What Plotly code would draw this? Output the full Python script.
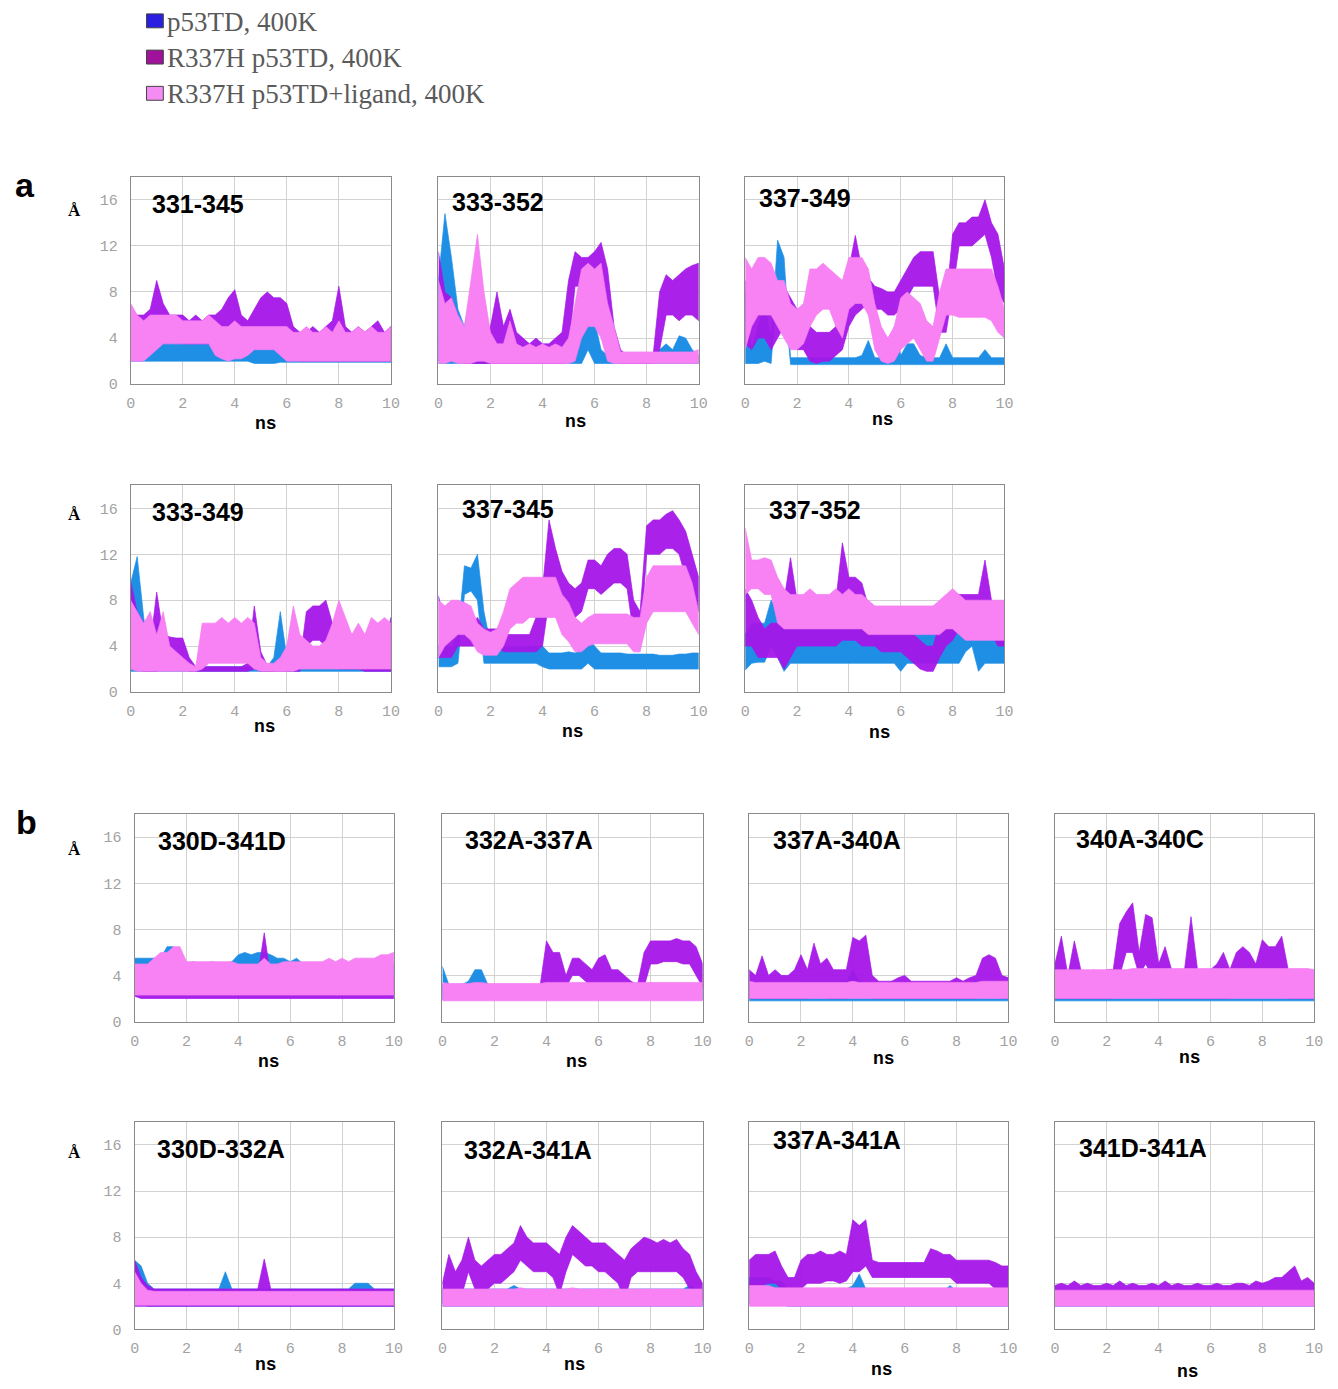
import plotly.graph_objects as go

W, H = 1338, 1389

# time grid (ns), 0.25 ns spacing
T = [0, 0.25, 0.5, 0.75, 1, 1.25, 1.5, 1.75, 2, 2.25, 2.5, 2.75, 3, 3.25, 3.5, 3.75,
     4, 4.25, 4.5, 4.75, 5, 5.25, 5.5, 5.75, 6, 6.25, 6.5, 6.75, 7, 7.25, 7.5, 7.75,
     8, 8.25, 8.5, 8.75, 9, 9.25, 9.5, 9.75, 10]

SERIES_NAMES = ["p53TD, 400K", "R337H p53TD, 400K", "R337H p53TD+ligand, 400K"]

# Each trajectory is stored as its lower / upper envelope (Å) along T.
# WT = p53TD, MUT = R337H p53TD, LIG = R337H p53TD + ligand

# ---------------- a: intra-chain distances ----------------
D331_345_WT_LO = [2.0,2.0,2.0,2.0,2.0,2.0,2.0,2.0,2.0,2.0,2.0,2.0,2.0,2.0,2.0,2.0,2.0,2.0,2.0,1.8,1.8,1.8,1.8,1.9,1.9,1.9,1.9,1.9,1.9,1.9,1.9,1.9,1.9,1.9,1.9,1.9,1.9,1.9,1.9,1.9,1.9]
D331_345_WT_HI = [5.0,5.0,4.5,4.0,4.0,4.2,4.2,4.2,4.2,4.0,4.2,4.0,4.2,3.5,3.5,3.5,3.5,3.5,3.5,3.2,3.2,3.2,3.2,3.5,3.5,3.5,3.5,3.5,3.5,3.5,3.5,3.5,3.5,3.5,3.5,3.5,3.5,3.5,3.5,3.5,3.5]
D331_345_MUT_LO = [3.0,3.5,3.5,4.0,4.0,4.0,4.0,4.0,3.5,3.5,3.5,3.5,3.5,3.0,3.5,4.0,3.5,3.0,3.0,3.5,4.0,5.0,4.5,4.0,3.0,2.5,2.0,2.0,2.0,2.0,2.0,2.0,2.0,2.0,2.0,2.0,2.0,2.0,2.0,2.0,2.0]
D331_345_MUT_HI = [6.5,6.0,6.0,6.5,9.0,7.0,6.0,6.0,6.0,5.5,6.0,5.5,6.0,6.0,6.5,7.5,8.2,6.0,5.5,6.5,7.5,8.0,7.5,7.5,7.0,5.0,4.5,4.5,5.0,4.5,5.0,5.5,8.5,5.0,4.5,5.0,4.5,5.0,5.5,4.5,5.0]
D331_345_LIG_LO = [2.0,2.0,2.0,2.5,3.0,3.5,3.5,3.5,3.5,3.5,3.5,3.5,3.5,2.5,2.2,2.0,2.2,2.2,2.5,3.0,3.0,3.0,3.0,2.5,2.0,2.0,2.0,2.0,2.0,2.0,2.0,2.0,2.0,2.0,2.0,2.0,2.0,2.0,2.0,2.0,2.0]
D331_345_LIG_HI = [7.0,6.0,5.5,6.0,6.0,6.0,6.0,6.0,5.5,5.5,5.5,5.5,6.0,5.5,5.0,5.0,5.5,5.0,5.0,5.0,5.0,5.0,5.0,5.0,5.0,4.5,4.5,5.0,4.5,4.5,5.0,4.5,5.5,4.5,4.5,5.0,4.5,5.0,4.5,4.5,5.0]

D333_352_WT_LO = [1.8,1.8,1.8,1.8,1.8,1.8,1.8,1.8,1.8,1.8,1.8,1.8,1.8,1.8,1.8,1.8,1.8,1.8,1.8,1.8,1.8,1.8,1.8,3.0,1.8,1.8,1.8,1.8,1.8,1.8,1.8,1.8,1.8,1.8,1.8,1.8,1.8,1.8,1.8,1.8,1.8]
D333_352_WT_HI = [9.0,14.8,11.0,6.5,5.0,8.0,12.0,3.0,2.5,2.3,2.5,2.3,2.5,2.3,2.5,2.3,2.5,2.3,2.5,2.3,2.5,3.0,5.0,6.0,5.5,3.0,2.5,2.8,2.8,2.3,2.3,2.3,2.5,2.5,3.0,3.5,3.0,4.2,4.0,3.0,2.5]
D333_352_MUT_LO = [2.0,3.0,3.0,2.0,1.8,1.8,1.8,1.8,1.8,1.8,1.8,1.8,1.8,1.8,1.8,1.8,1.8,1.8,1.8,1.8,3.0,8.5,8.5,8.0,8.0,8.0,5.0,2.0,1.8,1.8,1.8,1.8,1.8,1.8,3.0,6.0,6.0,5.5,6.0,6.0,5.5]
D333_352_MUT_HI = [11.5,8.0,7.5,6.0,4.0,6.0,8.0,4.0,5.0,8.0,5.0,6.5,4.5,4.0,3.5,4.0,3.5,3.5,4.0,4.5,9.0,11.5,11.0,11.0,11.5,12.3,10.0,5.0,3.0,2.5,2.5,2.5,2.5,2.5,8.0,9.5,9.0,9.5,10.0,10.3,10.5]
D333_352_LIG_LO = [1.8,1.8,2.0,1.8,1.8,1.8,2.0,2.0,1.8,1.8,1.8,1.8,1.8,1.8,1.8,1.8,1.8,1.8,1.8,1.8,1.8,2.0,4.0,5.0,5.0,4.0,2.0,1.8,1.8,1.8,1.8,1.8,1.8,1.8,1.8,1.8,1.8,1.8,1.8,1.8,1.8]
D333_352_LIG_HI = [9.0,7.0,7.5,6.0,5.0,9.0,13.0,8.0,4.5,3.5,3.5,5.5,3.5,3.2,3.5,3.2,3.5,3.2,3.5,3.2,4.0,7.0,10.0,10.5,10.0,10.5,7.0,5.0,2.8,2.8,2.8,2.8,2.8,2.8,2.8,2.8,2.8,2.8,2.8,2.8,3.0]

D337_349_WT_LO = [1.8,1.8,1.8,2.0,1.8,8.8,8.0,1.7,1.7,1.7,1.7,1.7,1.7,1.7,1.7,1.7,1.7,1.7,1.7,1.7,1.7,1.7,1.7,1.7,1.7,1.7,1.7,1.7,1.7,1.7,1.7,1.7,1.7,1.7,1.7,1.7,1.7,1.7,1.7,1.7,1.7]
D337_349_WT_HI = [8.0,3.0,5.0,7.0,4.0,12.5,11.0,2.3,2.3,2.3,2.3,2.3,2.3,2.3,2.3,2.3,2.3,2.3,2.5,3.8,2.3,2.3,2.5,5.0,2.5,3.5,3.5,2.5,2.3,2.3,2.3,3.5,2.3,2.3,2.3,2.3,2.3,3.0,2.3,2.3,2.3]
D337_349_MUT_LO = [3.5,3.0,4.0,4.0,3.0,4.0,5.0,4.0,3.0,3.0,2.0,1.8,2.0,2.0,2.5,3.0,5.0,6.0,6.5,7.0,6.5,6.5,6.0,6.0,6.5,7.5,8.5,8.5,8.5,8.5,4.5,4.5,8.0,12.0,12.0,12.0,12.5,13.0,11.0,8.0,7.0]
D337_349_MUT_HI = [9.0,8.0,7.0,7.5,7.0,6.5,8.5,7.5,6.5,5.5,5.0,4.5,4.5,4.5,5.0,7.0,10.0,12.9,10.0,9.2,8.5,8.3,8.0,8.0,9.0,10.0,11.0,11.5,11.5,11.5,7.5,7.0,13.0,14.0,14.0,14.5,14.5,16.0,14.0,13.0,10.0]
D337_349_LIG_LO = [3.0,5.0,6.0,6.0,6.0,5.0,4.0,3.0,3.0,3.5,5.0,6.0,6.5,6.5,5.0,4.0,6.5,7.0,7.0,6.0,3.0,2.0,1.8,2.0,3.0,3.5,4.0,3.0,2.0,2.0,4.0,6.0,6.0,5.8,5.8,5.8,5.8,5.8,5.5,4.5,4.0]
D337_349_LIG_HI = [11.0,10.0,11.0,11.0,10.5,9.0,9.0,7.0,6.5,7.0,10.0,10.0,10.5,10.0,9.5,9.0,11.0,11.0,11.0,10.0,7.0,5.0,4.0,5.0,7.5,8.0,7.5,7.0,5.5,5.0,8.0,10.0,10.0,10.0,10.0,10.0,10.0,10.0,10.0,8.5,6.5]

D333_349_WT_LO = [1.8,1.8,1.8,1.8,1.8,1.8,1.8,1.8,1.8,1.8,1.8,1.8,1.8,1.8,1.8,1.8,1.8,1.8,1.8,1.8,1.8,1.8,1.8,2.5,1.8,1.8,1.8,1.8,1.8,1.8,1.8,1.8,1.8,1.8,1.8,1.8,1.8,1.8,1.8,1.8,1.8]
D333_349_WT_HI = [9.5,11.8,6.5,3.0,6.0,6.0,2.5,2.2,2.2,2.2,2.2,2.2,2.2,2.2,2.2,2.2,2.2,2.2,2.2,2.2,2.2,2.2,3.0,7.0,3.0,2.2,2.2,2.2,2.2,2.2,2.2,2.2,3.0,2.2,2.2,2.2,2.2,2.2,2.2,2.2,2.2]
D333_349_MUT_LO = [2.0,2.0,1.8,1.8,1.8,2.0,2.5,2.5,2.7,1.8,1.8,1.8,1.8,1.8,1.8,1.8,1.8,1.8,1.8,2.0,1.8,1.8,1.8,1.8,1.8,1.8,1.8,4.0,4.5,4.5,4.0,3.0,2.0,2.0,2.0,2.0,1.8,1.8,1.8,1.8,1.8]
D333_349_MUT_HI = [9.6,7.0,6.0,4.0,8.7,5.0,4.8,4.7,4.7,3.0,2.2,2.2,2.2,2.2,2.2,2.2,2.2,2.2,2.5,7.5,3.5,2.3,2.3,2.3,2.3,2.3,2.5,7.0,7.5,7.5,8.0,6.0,5.0,3.0,5.0,5.0,3.0,4.0,3.0,4.0,6.5]
D333_349_LIG_LO = [2.0,1.8,1.8,1.8,1.8,1.8,1.8,1.8,1.8,1.8,1.8,2.0,2.5,2.5,2.5,2.5,2.5,2.5,2.5,2.0,1.8,1.8,1.8,1.8,1.8,1.8,2.0,2.0,2.0,2.0,2.0,2.0,2.0,2.0,2.0,2.0,2.0,2.0,2.0,2.0,2.0]
D333_349_LIG_HI = [8.0,7.0,6.0,7.0,5.0,7.0,4.0,3.5,3.0,2.5,2.2,6.0,6.0,6.0,6.5,6.0,6.5,6.0,6.5,6.0,3.0,2.5,2.5,3.0,4.0,7.5,5.0,4.5,4.0,4.0,4.5,6.0,8.0,6.5,5.0,6.0,5.0,6.5,6.0,6.5,6.0]

D337_345_WT_LO = [2.2,2.2,2.2,2.5,8.5,8.8,8.0,2.5,2.5,2.5,2.5,2.5,2.5,2.5,2.5,2.5,2.2,2.0,2.0,2.0,2.0,2.0,2.0,2.5,2.0,2.0,2.0,2.0,2.0,2.0,2.0,2.0,2.0,2.0,2.0,2.0,2.0,2.0,2.0,2.0,2.0]
D337_345_WT_HI = [4.0,4.0,3.9,5.0,11.0,10.8,12.0,7.0,4.2,4.0,4.0,3.9,4.0,3.9,4.0,4.0,4.0,3.4,3.4,3.4,3.5,3.4,3.6,4.6,4.0,3.4,3.4,3.4,3.4,3.3,3.3,3.3,3.3,3.3,3.2,3.2,3.2,3.3,3.3,3.4,3.4]
D337_345_MUT_LO = [3.0,3.0,3.0,4.0,4.0,4.0,4.0,4.0,4.0,4.0,3.5,3.5,3.5,3.5,3.5,3.5,4.0,8.0,8.0,7.0,6.5,6.5,7.0,9.0,9.0,8.5,9.0,9.5,9.5,9.0,5.0,4.0,12.0,12.0,12.0,12.5,12.5,12.0,10.0,8.0,7.0]
D337_345_MUT_HI = [8.4,6.0,6.0,6.0,6.0,6.0,6.5,5.5,5.5,5.5,5.0,5.0,5.0,5.0,5.0,6.5,9.0,15.0,12.5,10.5,9.5,9.0,9.5,11.5,11.5,11.0,12.0,12.5,12.5,12.0,8.0,7.0,14.5,15.0,15.0,15.5,15.8,15.0,14.0,12.0,10.0]
D337_345_LIG_LO = [3.0,4.0,4.5,5.0,5.0,4.5,3.5,3.2,3.2,3.2,4.0,5.5,6.0,6.0,6.5,6.5,6.5,6.5,6.5,5.0,4.4,3.5,3.5,4.0,4.2,4.2,4.2,4.2,4.2,4.2,3.5,3.5,6.0,7.0,7.0,7.0,7.0,7.0,7.0,6.0,5.0]
D337_345_LIG_HI = [8.0,7.5,8.0,8.0,7.8,7.5,6.0,5.5,5.2,5.5,7.0,9.0,9.5,10.0,10.0,10.0,10.0,10.0,10.0,8.5,7.8,6.5,6.0,6.5,6.8,6.8,6.8,6.8,6.8,6.8,6.5,6.5,10.0,11.0,11.0,11.0,11.0,11.0,11.0,9.5,7.0]

D337_352_WT_LO = [1.9,2.5,2.6,2.6,4.0,3.0,1.8,2.5,2.5,2.5,2.5,2.5,2.5,2.5,2.5,2.5,2.5,2.5,2.5,2.5,2.5,2.5,2.5,2.5,1.8,2.5,2.5,2.5,2.5,2.5,2.5,2.5,2.5,2.5,3.5,4.0,1.8,2.5,2.5,2.5,2.5]
D337_352_WT_HI = [5.0,6.0,6.0,6.0,8.0,7.0,6.0,6.0,6.0,6.0,6.0,6.0,5.8,6.0,6.0,6.5,6.0,6.0,6.0,5.8,6.0,6.0,6.0,6.0,5.5,5.5,5.5,5.5,5.5,5.5,5.5,5.5,5.5,6.0,7.5,7.5,6.0,6.0,5.5,5.5,5.5]
D337_352_MUT_LO = [4.0,4.0,3.0,3.0,3.0,3.0,2.0,3.0,4.0,4.0,4.0,4.0,4.0,4.0,4.0,4.5,4.5,4.5,4.0,4.0,4.0,3.5,3.5,3.5,3.5,3.0,2.5,2.0,1.8,1.8,3.0,4.0,4.5,5.5,6.0,6.0,6.0,6.0,5.0,4.0,4.0]
D337_352_MUT_HI = [9.0,8.0,6.5,5.5,6.0,6.0,8.0,11.7,8.0,7.5,7.5,8.0,7.5,7.5,8.0,13.0,10.0,10.0,9.5,7.5,7.0,7.0,7.0,7.0,6.5,6.0,5.0,4.5,4.0,4.0,6.0,8.0,8.5,8.5,8.5,8.5,8.5,11.5,8.0,7.0,6.5]
D337_352_LIG_LO = [8.5,9.0,9.0,8.5,8.5,6.0,5.5,5.5,5.5,5.5,5.5,5.5,5.5,5.5,5.5,5.5,5.5,5.5,5.5,5.0,5.0,5.0,5.0,5.0,5.0,5.0,5.0,5.0,5.0,5.0,5.0,5.5,5.5,5.0,4.5,4.5,4.5,4.5,4.5,4.5,4.5]
D337_352_LIG_HI = [14.3,11.5,11.5,11.7,11.5,10.0,9.0,8.5,8.5,8.5,9.0,8.5,8.5,8.5,9.0,8.5,9.0,8.5,8.5,8.0,7.5,7.5,7.5,7.5,7.5,7.5,7.5,7.5,7.5,7.5,8.0,8.5,9.0,8.5,8.0,8.0,8.0,8.0,8.0,8.0,8.0]

# ---------------- b: inter-chain distances ----------------
D330D_341D_WT_LO = [2.8,2.8,2.8,2.8,2.8,2.8,2.8,2.8,2.8,2.8,2.8,2.8,2.8,2.8,2.8,2.8,3.3,3.3,3.3,3.3,3.3,3.3,3.3,3.0,3.0,3.0,3.0,2.5,2.5,2.5,2.5,2.5,2.5,2.5,2.5,2.5,2.5,2.5,2.5,2.5,2.5]
D330D_341D_WT_HI = [5.5,5.5,5.5,5.5,5.5,6.5,6.5,5.5,5.0,5.2,5.0,5.0,5.2,5.0,5.0,5.2,5.8,6.0,5.8,6.0,6.0,5.8,5.5,5.5,5.2,5.5,5.0,5.0,4.8,5.0,4.8,4.8,5.0,4.8,5.0,4.8,5.0,5.0,4.8,5.0,5.0]
D330D_341D_MUT_LO = [2.2,2.0,2.0,2.0,2.0,2.0,2.0,2.0,2.0,2.0,2.0,2.0,2.0,2.0,2.0,2.0,2.0,2.0,2.0,2.0,2.0,2.0,2.0,2.0,2.0,2.0,2.0,2.0,2.0,2.0,2.0,2.0,2.0,2.0,2.0,2.0,2.0,2.0,2.0,2.0,2.0]
D330D_341D_MUT_HI = [3.8,3.5,3.6,3.5,3.8,4.5,3.8,3.5,3.6,3.5,3.8,3.5,3.6,3.5,3.8,3.6,3.8,3.5,3.8,4.0,7.7,3.8,3.6,3.5,3.6,3.5,3.6,3.5,3.6,3.5,4.0,3.6,3.8,3.5,3.8,3.6,3.8,4.0,3.8,3.6,4.0]
D330D_341D_LIG_LO = [2.3,2.3,2.3,2.3,2.3,2.3,2.3,2.3,2.3,2.3,2.3,2.3,2.3,2.3,2.3,2.3,2.3,2.3,2.3,2.3,2.3,2.3,2.3,2.3,2.3,2.3,2.3,2.3,2.3,2.3,2.3,2.3,2.3,2.3,2.3,2.3,2.3,2.3,2.3,2.3,2.3]
D330D_341D_LIG_HI = [5.0,5.0,5.0,5.5,6.0,6.0,6.5,6.5,5.2,5.2,5.2,5.2,5.2,5.2,5.2,5.2,5.0,5.0,5.0,5.0,5.5,5.0,5.0,5.2,5.2,5.2,5.2,5.2,5.2,5.2,5.5,5.2,5.5,5.2,5.5,5.5,5.5,5.5,5.8,5.8,6.0]

D332A_337A_WT_LO = [1.9,1.9,1.9,1.9,1.9,1.9,1.9,1.9,1.9,1.9,1.9,1.9,1.9,1.9,1.9,1.9,1.9,1.9,1.9,1.9,1.9,1.9,1.9,1.9,1.9,1.9,1.9,1.9,1.9,1.9,1.9,1.9,1.9,1.9,1.9,1.9,1.9,1.9,1.9,1.9,1.9]
D332A_337A_WT_HI = [4.8,3.2,3.2,3.2,3.5,4.5,4.5,3.2,3.2,3.2,3.0,3.0,3.0,3.0,3.0,3.0,3.2,3.0,3.2,3.0,3.2,3.0,3.2,3.0,3.2,3.0,3.0,3.0,3.0,3.0,3.2,3.2,3.2,3.2,3.2,3.2,3.2,3.2,3.2,3.2,3.2]
D332A_337A_MUT_LO = [2.0,2.0,2.0,2.0,2.0,2.0,2.0,2.0,2.0,2.0,2.0,2.0,2.0,2.0,2.0,2.0,2.5,3.0,3.0,3.0,4.0,4.0,3.5,3.0,3.0,3.0,3.0,2.5,2.5,2.5,2.5,3.0,5.0,5.0,5.2,5.2,5.2,5.0,5.0,4.0,3.0]
D332A_337A_MUT_HI = [3.2,3.0,3.0,3.2,3.0,3.0,3.2,3.0,3.0,3.0,3.2,3.0,3.0,3.2,3.0,3.0,7.0,6.0,6.0,4.0,5.5,5.5,5.0,4.5,5.5,5.8,4.5,4.5,4.0,3.5,3.2,6.0,7.0,7.0,7.0,7.0,7.2,7.0,7.0,6.5,5.0]
D332A_337A_LIG_LO = [1.8,1.8,1.8,1.8,1.8,1.8,1.8,1.8,1.8,1.8,1.8,1.8,1.8,1.8,1.8,1.8,1.8,1.8,1.8,1.8,1.8,1.8,1.8,1.8,1.8,1.8,1.8,1.8,1.8,1.8,1.8,1.8,1.8,1.8,1.8,1.8,1.8,1.8,1.8,1.8,1.8]
D332A_337A_LIG_HI = [3.4,3.3,3.3,3.3,3.3,3.4,3.4,3.3,3.3,3.3,3.3,3.3,3.3,3.3,3.3,3.3,3.4,3.4,3.4,3.4,3.4,3.4,3.4,3.4,3.4,3.4,3.4,3.4,3.4,3.4,3.4,3.4,3.4,3.4,3.4,3.4,3.4,3.4,3.4,3.4,3.4]

D337A_340A_WT_LO = [1.8,1.8,1.8,1.8,1.8,1.8,1.8,1.8,1.8,1.8,1.8,1.8,1.8,1.8,1.8,1.8,1.8,1.8,1.8,1.8,1.8,1.8,1.8,1.8,1.8,1.8,1.8,1.8,1.8,1.8,1.8,1.8,1.8,1.8,1.8,1.8,1.8,1.8,1.8,1.8,1.8]
D337A_340A_WT_HI = [3.5,3.5,3.3,3.3,3.3,3.3,3.3,3.3,3.5,3.5,3.5,3.5,3.5,3.5,3.5,3.5,4.5,3.5,3.3,3.3,3.3,3.3,3.5,3.3,3.3,3.3,3.3,3.3,3.3,3.3,3.3,3.3,3.3,3.3,3.3,3.5,3.5,3.5,3.5,3.5,3.5]
D337A_340A_MUT_LO = [2.0,2.0,2.0,2.0,2.0,2.0,2.0,2.0,2.0,2.0,2.5,2.5,2.0,2.0,2.0,2.0,3.0,3.0,3.0,2.0,2.0,2.0,2.0,2.0,2.0,2.0,2.0,2.0,2.0,2.0,2.0,2.0,2.0,2.0,2.0,2.0,2.5,3.0,3.0,2.0,2.0]
D337A_340A_MUT_HI = [4.5,4.0,5.7,4.0,4.5,4.0,4.0,4.5,5.8,4.5,6.8,5.0,5.5,4.5,4.5,4.5,7.3,7.0,7.5,4.0,3.5,3.5,3.5,3.8,4.0,3.5,3.5,3.5,3.5,3.5,3.5,3.5,3.8,3.5,3.8,4.0,5.5,5.8,5.5,4.0,3.8]
D337A_340A_LIG_LO = [2.0,2.0,2.0,2.0,2.0,2.0,2.0,2.0,2.0,2.0,2.0,2.0,2.0,2.0,2.0,2.0,2.0,2.0,2.0,2.0,2.0,2.0,2.0,2.0,2.0,2.0,2.0,2.0,2.0,2.0,2.0,2.0,2.0,2.0,2.0,2.0,2.0,2.0,2.0,2.0,2.0]
D337A_340A_LIG_HI = [3.5,3.4,3.4,3.4,3.4,3.4,3.4,3.4,3.4,3.4,3.4,3.4,3.4,3.4,3.4,3.4,3.5,3.4,3.4,3.4,3.4,3.4,3.4,3.4,3.4,3.4,3.4,3.4,3.4,3.4,3.4,3.4,3.4,3.4,3.4,3.4,3.5,3.5,3.5,3.5,3.5]

D340A_340C_WT_LO = [1.8,1.8,1.8,1.8,1.8,1.8,1.8,1.8,1.8,1.8,1.8,1.8,1.8,1.8,1.8,1.8,1.8,1.8,1.8,1.8,1.8,1.8,1.8,1.8,1.8,1.8,1.8,1.8,1.8,1.8,1.8,1.8,1.8,1.8,1.8,1.8,1.8,1.8,1.8,1.8,1.8]
D340A_340C_WT_HI = [3.2,3.0,3.0,3.0,3.0,3.0,3.0,3.0,3.0,3.0,3.0,3.0,3.0,3.0,3.0,3.0,3.0,3.0,3.0,3.0,3.0,3.0,3.0,3.0,3.0,3.0,3.0,3.0,3.2,3.2,3.8,3.2,3.0,3.0,3.0,3.0,3.0,3.0,3.0,3.0,3.0]
D340A_340C_MUT_LO = [2.0,2.0,2.0,2.0,2.0,2.0,2.0,2.0,2.0,2.0,4.0,6.0,6.0,4.0,5.0,4.0,2.0,2.0,2.0,2.0,2.0,2.0,2.0,2.0,2.0,2.0,2.0,2.0,3.0,3.0,3.0,2.5,4.0,3.5,3.5,3.5,2.0,2.0,2.0,2.0,2.0]
D340A_340C_MUT_HI = [5.0,7.4,4.0,7.0,4.5,4.0,4.5,4.0,4.5,4.5,8.5,9.5,10.3,6.0,9.3,9.0,5.0,6.5,4.5,4.5,4.5,9.1,4.5,4.5,4.5,5.0,6.0,4.5,6.0,6.5,6.0,5.0,7.1,6.5,6.5,7.4,4.5,4.0,4.0,4.0,4.0]
D340A_340C_LIG_LO = [2.0,2.0,2.0,2.0,2.0,2.0,2.0,2.0,2.0,2.0,2.0,2.0,2.0,2.0,2.0,2.0,2.0,2.0,2.0,2.0,2.0,2.0,2.0,2.0,2.0,2.0,2.0,2.0,2.0,2.0,2.0,2.0,2.0,2.0,2.0,2.0,2.0,2.0,2.0,2.0,2.0]
D340A_340C_LIG_HI = [4.5,4.5,4.5,4.5,4.5,4.5,4.5,4.5,4.5,4.5,4.5,4.5,4.6,4.6,4.6,4.6,4.6,4.6,4.6,4.6,4.6,4.6,4.6,4.6,4.6,4.6,4.6,4.6,4.6,4.6,4.6,4.6,4.6,4.6,4.6,4.6,4.6,4.6,4.6,4.6,4.5]

D330D_332A_WT_LO = [2.8,2.5,2.0,2.0,2.0,2.0,2.0,2.0,2.0,2.0,2.0,2.0,2.0,2.0,2.0,2.0,2.0,2.0,2.0,2.0,2.0,2.0,2.0,2.0,2.0,2.0,2.0,2.0,2.0,2.0,2.0,2.0,2.0,2.0,2.0,2.0,2.0,2.0,2.0,2.0,2.0]
D330D_332A_WT_HI = [6.0,5.5,4.0,3.5,3.5,3.5,3.5,3.5,3.5,3.5,3.5,3.5,3.5,3.5,5.0,3.5,3.5,3.5,3.5,3.5,3.5,3.5,3.5,3.5,3.5,3.5,3.5,3.5,3.5,3.5,3.5,3.5,3.5,3.5,4.0,4.0,4.0,3.5,3.5,3.5,3.5]
D330D_332A_MUT_LO = [2.0,2.0,2.0,2.0,2.0,2.0,2.0,2.0,2.0,2.0,2.0,2.0,2.0,2.0,2.0,2.0,2.0,2.0,2.0,2.0,2.0,2.0,2.0,2.0,2.0,2.0,2.0,2.0,2.0,2.0,2.0,2.0,2.0,2.0,2.0,2.0,2.0,2.0,2.0,2.0,2.0]
D330D_332A_MUT_HI = [6.0,4.5,3.8,3.5,3.5,3.5,3.5,3.5,3.5,3.5,3.5,3.5,3.5,3.5,3.5,3.5,3.5,3.5,3.5,3.5,6.1,3.5,3.5,3.5,3.5,3.5,3.5,3.5,3.5,3.5,3.5,3.5,3.5,3.5,3.5,3.5,3.5,3.5,3.5,3.5,3.5]
D330D_332A_LIG_LO = [2.1,2.1,2.1,2.1,2.1,2.1,2.1,2.1,2.1,2.1,2.1,2.1,2.1,2.1,2.1,2.1,2.1,2.1,2.1,2.1,2.1,2.1,2.1,2.1,2.1,2.1,2.1,2.1,2.1,2.1,2.1,2.1,2.1,2.1,2.1,2.1,2.1,2.1,2.1,2.1,2.1]
D330D_332A_LIG_HI = [5.0,4.0,3.4,3.3,3.3,3.3,3.3,3.3,3.3,3.3,3.3,3.3,3.3,3.3,3.3,3.3,3.3,3.3,3.3,3.3,3.3,3.3,3.3,3.3,3.3,3.3,3.3,3.3,3.3,3.3,3.3,3.3,3.3,3.3,3.3,3.3,3.3,3.3,3.3,3.3,3.3]

D332A_341A_WT_LO = [2.0,2.0,2.0,2.0,2.0,2.0,2.0,2.0,2.0,2.0,2.0,2.0,2.0,2.0,2.0,2.0,2.0,2.0,2.0,2.0,2.0,2.0,2.0,2.0,2.0,2.0,2.0,2.0,2.0,2.0,2.0,2.0,2.0,2.0,2.0,2.0,2.0,2.0,2.0,2.0,2.0]
D332A_341A_WT_HI = [3.5,3.5,3.5,3.5,3.5,3.5,3.5,3.5,3.5,3.5,3.5,3.8,3.5,3.5,3.5,3.5,3.5,3.5,3.5,3.5,3.5,3.5,3.5,3.5,3.5,3.5,3.5,3.5,3.5,3.5,3.5,3.5,3.5,3.5,3.5,3.5,3.5,3.5,3.8,3.5,3.5]
D332A_341A_MUT_LO = [2.2,3.0,3.0,3.0,5.0,3.5,3.5,3.5,4.0,4.0,4.5,5.0,6.0,5.5,5.0,5.0,5.0,4.5,3.0,5.0,6.5,6.0,5.5,5.5,5.0,5.0,4.5,4.0,2.5,4.5,5.0,5.0,5.0,5.0,5.0,5.0,5.0,4.5,3.5,2.5,2.5]
D332A_341A_MUT_HI = [4.0,6.5,5.0,6.0,8.0,6.0,5.5,6.0,6.5,6.5,7.0,7.5,9.0,8.0,7.5,7.5,7.5,7.0,6.5,8.0,9.0,8.5,8.0,7.5,7.5,7.5,7.0,6.5,6.0,7.0,7.5,8.0,7.8,7.5,7.8,7.5,7.8,7.0,6.5,5.0,4.0]
D332A_341A_LIG_LO = [2.0,2.0,2.0,2.0,2.0,2.0,2.0,2.0,2.0,2.0,2.0,2.0,2.0,2.0,2.0,2.0,2.0,2.0,2.0,2.0,2.0,2.0,2.0,2.0,2.0,2.0,2.0,2.0,2.0,2.0,2.0,2.0,2.0,2.0,2.0,2.0,2.0,2.0,2.0,2.0,2.0]
D332A_341A_LIG_HI = [3.5,3.5,3.5,3.5,3.5,3.5,3.5,3.5,3.5,3.5,3.5,3.5,3.6,3.5,3.5,3.5,3.5,3.5,3.5,3.5,3.6,3.5,3.5,3.5,3.5,3.5,3.5,3.5,3.5,3.5,3.5,3.5,3.5,3.5,3.5,3.5,3.5,3.5,3.5,3.5,3.5]

D337A_341A_WT_LO = [2.2,2.2,2.2,2.2,2.2,2.2,2.0,2.0,2.0,2.0,2.0,2.0,2.0,2.0,2.0,2.0,2.0,2.0,2.0,2.0,2.0,2.0,2.0,2.0,2.0,2.0,2.0,2.0,2.0,2.0,2.0,2.0,2.0,2.0,2.0,2.0,2.0,2.0,2.0,2.0,2.0]
D337A_341A_WT_HI = [4.5,4.5,4.5,4.5,4.2,4.2,3.5,3.5,3.5,3.5,3.5,3.5,3.5,3.5,3.5,3.5,3.8,4.8,3.5,3.5,3.5,3.3,3.3,3.3,3.3,3.5,3.3,3.3,3.3,3.3,3.3,3.8,3.3,3.3,3.3,3.3,3.3,3.3,3.3,3.3,3.3]
D337A_341A_MUT_LO = [3.5,3.8,3.8,4.0,4.0,3.5,3.0,2.8,3.5,4.0,4.0,4.0,4.2,4.2,4.0,4.2,5.0,5.0,5.5,4.5,4.5,4.5,4.5,4.5,4.5,4.5,4.5,4.5,4.5,4.5,4.5,4.5,4.0,4.0,4.0,4.0,4.0,4.0,3.5,3.0,3.0]
D337A_341A_MUT_HI = [6.0,6.5,6.5,6.5,6.8,5.5,4.5,4.5,6.0,6.5,6.5,6.8,6.5,6.5,6.8,6.5,9.5,9.0,9.5,6.0,5.8,5.8,5.8,5.8,5.8,5.8,5.8,5.8,7.0,6.8,6.5,6.5,6.0,6.0,6.0,6.0,6.0,6.0,5.8,5.5,5.5]
D337A_341A_LIG_LO = [2.0,2.0,2.0,2.0,2.0,2.0,2.0,2.0,2.0,2.0,2.0,2.0,2.0,2.0,2.0,2.0,2.0,2.0,2.0,2.0,2.0,2.0,2.0,2.0,2.0,2.0,2.0,2.0,2.0,2.0,2.0,2.0,2.0,2.0,2.0,2.0,2.0,2.0,2.0,2.0,2.0]
D337A_341A_LIG_HI = [3.8,3.8,3.8,3.8,3.6,3.6,3.6,3.6,3.6,3.6,3.6,3.6,3.6,3.6,3.6,3.6,3.6,3.6,3.6,3.6,3.6,3.6,3.6,3.6,3.6,3.6,3.6,3.6,3.6,3.6,3.6,3.6,3.6,3.6,3.6,3.6,3.6,3.6,3.6,3.6,3.6]

D341D_341A_WT_LO = [2.0,2.0,2.0,2.0,2.0,2.0,2.0,2.0,2.0,2.0,2.0,2.0,2.0,2.0,2.0,2.0,2.0,2.0,2.0,2.0,2.0,2.0,2.0,2.0,2.0,2.0,2.0,2.0,2.0,2.0,2.0,2.0,2.0,2.0,2.0,2.0,2.0,2.0,2.0,2.0,2.0]
D341D_341A_WT_HI = [3.4,3.4,3.4,3.4,3.4,3.4,3.4,3.4,3.4,3.4,3.4,3.4,3.4,3.4,3.4,3.4,3.4,3.4,3.4,3.4,3.4,3.4,3.4,3.4,3.4,3.4,3.4,3.4,3.4,3.4,3.4,3.4,3.4,3.4,3.4,3.4,3.4,3.4,3.4,3.4,3.4]
D341D_341A_MUT_LO = [2.2,2.2,2.2,2.2,2.2,2.2,2.2,2.2,2.2,2.2,2.2,2.2,2.2,2.2,2.2,2.2,2.2,2.2,2.2,2.2,2.2,2.2,2.2,2.2,2.2,2.2,2.2,2.2,2.2,2.2,2.2,2.2,2.2,2.2,2.2,2.2,2.2,2.2,2.2,2.2,2.2]
D341D_341A_MUT_HI = [3.8,4.0,3.8,4.2,3.8,4.0,3.8,3.8,4.0,3.8,4.2,3.8,4.0,3.8,3.8,4.0,3.8,4.2,3.8,4.0,3.8,3.8,4.0,3.8,3.8,4.0,3.8,3.8,4.0,4.0,3.8,4.2,4.0,4.2,4.5,4.5,5.0,5.5,4.2,4.5,4.0]
D341D_341A_LIG_LO = [2.0,2.0,2.0,2.0,2.0,2.0,2.0,2.0,2.0,2.0,2.0,2.0,2.0,2.0,2.0,2.0,2.0,2.0,2.0,2.0,2.0,2.0,2.0,2.0,2.0,2.0,2.0,2.0,2.0,2.0,2.0,2.0,2.0,2.0,2.0,2.0,2.0,2.0,2.0,2.0,2.0]
D341D_341A_LIG_HI = [3.4,3.4,3.4,3.4,3.4,3.4,3.4,3.4,3.4,3.4,3.4,3.4,3.4,3.4,3.4,3.4,3.4,3.4,3.4,3.4,3.4,3.4,3.4,3.4,3.4,3.4,3.4,3.4,3.4,3.4,3.4,3.4,3.4,3.4,3.4,3.4,3.4,3.4,3.4,3.4,3.4]

PANELS = [
    ("331-345", D331_345_WT_LO, D331_345_WT_HI, D331_345_MUT_LO, D331_345_MUT_HI, D331_345_LIG_LO, D331_345_LIG_HI),
    ("333-352", D333_352_WT_LO, D333_352_WT_HI, D333_352_MUT_LO, D333_352_MUT_HI, D333_352_LIG_LO, D333_352_LIG_HI),
    ("337-349", D337_349_WT_LO, D337_349_WT_HI, D337_349_MUT_LO, D337_349_MUT_HI, D337_349_LIG_LO, D337_349_LIG_HI),
    ("333-349", D333_349_WT_LO, D333_349_WT_HI, D333_349_MUT_LO, D333_349_MUT_HI, D333_349_LIG_LO, D333_349_LIG_HI),
    ("337-345", D337_345_WT_LO, D337_345_WT_HI, D337_345_MUT_LO, D337_345_MUT_HI, D337_345_LIG_LO, D337_345_LIG_HI),
    ("337-352", D337_352_WT_LO, D337_352_WT_HI, D337_352_MUT_LO, D337_352_MUT_HI, D337_352_LIG_LO, D337_352_LIG_HI),
    ("330D-341D", D330D_341D_WT_LO, D330D_341D_WT_HI, D330D_341D_MUT_LO, D330D_341D_MUT_HI, D330D_341D_LIG_LO, D330D_341D_LIG_HI),
    ("332A-337A", D332A_337A_WT_LO, D332A_337A_WT_HI, D332A_337A_MUT_LO, D332A_337A_MUT_HI, D332A_337A_LIG_LO, D332A_337A_LIG_HI),
    ("337A-340A", D337A_340A_WT_LO, D337A_340A_WT_HI, D337A_340A_MUT_LO, D337A_340A_MUT_HI, D337A_340A_LIG_LO, D337A_340A_LIG_HI),
    ("340A-340C", D340A_340C_WT_LO, D340A_340C_WT_HI, D340A_340C_MUT_LO, D340A_340C_MUT_HI, D340A_340C_LIG_LO, D340A_340C_LIG_HI),
    ("330D-332A", D330D_332A_WT_LO, D330D_332A_WT_HI, D330D_332A_MUT_LO, D330D_332A_MUT_HI, D330D_332A_LIG_LO, D330D_332A_LIG_HI),
    ("332A-341A", D332A_341A_WT_LO, D332A_341A_WT_HI, D332A_341A_MUT_LO, D332A_341A_MUT_HI, D332A_341A_LIG_LO, D332A_341A_LIG_HI),
    ("337A-341A", D337A_341A_WT_LO, D337A_341A_WT_HI, D337A_341A_MUT_LO, D337A_341A_MUT_HI, D337A_341A_LIG_LO, D337A_341A_LIG_HI),
    ("341D-341A", D341D_341A_WT_LO, D341D_341A_WT_HI, D341D_341A_MUT_LO, D341D_341A_MUT_HI, D341D_341A_LIG_LO, D341D_341A_LIG_HI),
]

for _label, *_arrs in PANELS:
    for _a in _arrs:
        assert len(_a) == len(T), (_label, len(_a))

X_TICKS = [0, 2, 4, 6, 8, 10]
Y_TICKS = [0, 4, 8, 12, 16]

LINE_COLORS = ["#1f8fe6", "#a516e8", "#f47cf0"]
FILL_COLORS = ["rgba(31,143,230,1.0)", "rgba(165,22,232,0.95)", "rgba(248,130,243,1.0)"]
LEGEND_COLORS = ["#2a1fe0", "#a0119c", "#f58cf3"]

# plot-box geometry in pixels: (left, top, right, bottom)
A_COLS = [(127, 390), (438, 701), (748, 1010)]
B_COLS = [(131, 393), (442, 705), (752, 1014), (1061, 1323)]
BOXES = (
    [(l, 178, r, 387) for l, r in A_COLS]
    + [(l, 489, r, 697) for l, r in A_COLS]
    + [(l, 820, r, 1029) for l, r in B_COLS]
    + [(l, 1130, r, 1339) for l, r in B_COLS]
)
LEFT_PANELS = {0, 3, 6, 10}
TITLE_POS = [(147, 205), (450, 203), (760, 199), (147, 516), (460, 513), (770, 514),
             (153, 847), (463, 846), (774, 846), (1080, 845),
             (152, 1157), (462, 1158), (774, 1148), (1083, 1156)]
NS_POS = [(264, 427), (577, 425), (887, 423), (263, 732), (574, 737), (884, 738),
          (267, 1070), (578, 1070), (888, 1067), (1198, 1066),
          (264, 1375), (576, 1375), (886, 1380), (1196, 1382)]
ANGSTROM_Y = [212, 518, 856, 1161]


def px(x):
    return x / W


def py(y):
    return 1 - y / H


fig = go.Figure()
annotations = []
shapes = []

for i, (label, *bands) in enumerate(PANELS):
    n = i + 1
    xa = "x" if n == 1 else f"x{n}"
    ya = "y" if n == 1 else f"y{n}"
    for s in range(3):
        lo, hi = bands[2 * s], bands[2 * s + 1]
        fig.add_trace(go.Scatter(
            x=T + T[::-1], y=hi + lo[::-1],
            mode="lines", fill="toself",
            fillcolor=FILL_COLORS[s],
            line=dict(color=LINE_COLORS[s], width=0.7),
            name=SERIES_NAMES[s], showlegend=False, hoverinfo="skip",
            xaxis=xa, yaxis=ya,
        ))
    l, t, r, b = BOXES[i]
    axis_common = dict(showline=True, mirror=True, linecolor="#8a8a8a", linewidth=1,
                       showgrid=True, gridcolor="#d2d2d2", gridwidth=1, zeroline=False,
                       ticks="", fixedrange=True,
                       tickfont=dict(family="Liberation Mono", size=15, color="#a2a2a2"))
    fig.layout[f"xaxis{'' if n == 1 else n}"] = dict(
        axis_common, domain=[px(l), px(r)], range=[0, 10], tickvals=X_TICKS,
        anchor=ya, ticklabelstandoff=5)
    fig.layout[f"yaxis{'' if n == 1 else n}"] = dict(
        axis_common, domain=[py(b), py(t)], range=[0, 18], tickvals=Y_TICKS,
        anchor=xa, showticklabels=i in LEFT_PANELS, ticklabelstandoff=9)

    tx, ty = TITLE_POS[i]
    annotations.append(dict(x=px(tx), y=py(ty), xref="paper", yref="paper", text=f"<b>{label}</b>",
                            showarrow=False, xanchor="left", yanchor="middle",
                            font=dict(family="Liberation Sans", size=25, color="black")))
    nx, ny = NS_POS[i]
    annotations.append(dict(x=px(nx), y=py(ny), xref="paper", yref="paper", text="<b>ns</b>",
                            showarrow=False, xanchor="center", yanchor="middle",
                            font=dict(family="Liberation Mono", size=18, color="black")))

for ay in ANGSTROM_Y:
    annotations.append(dict(x=px(70), y=py(ay), xref="paper", yref="paper", text="<b>Å</b>",
                            showarrow=False, xanchor="center", yanchor="middle",
                            font=dict(family="Liberation Serif", size=17, color="black")))

# section letters
for letter, (lx, ly) in (("a", (20, 186)), ("b", (22, 828))):
    annotations.append(dict(x=px(lx), y=py(ly), xref="paper", yref="paper", text=f"<b>{letter}</b>",
                            showarrow=False, xanchor="center", yanchor="middle",
                            font=dict(family="Liberation Sans", size=34, color="black")))

# legend
for k, (name, col) in enumerate(zip(SERIES_NAMES, LEGEND_COLORS)):
    cy = 21 + 36.5 * k
    shapes.append(dict(type="rect", xref="paper", yref="paper",
                       x0=px(143), x1=px(160), y0=py(cy + 7), y1=py(cy - 7),
                       fillcolor=col, line=dict(color="#444", width=1)))
    annotations.append(dict(x=px(162), y=py(cy + 1), xref="paper", yref="paper", text=name,
                            showarrow=False, xanchor="left", yanchor="middle",
                            font=dict(family="Liberation Serif", size=27, color="#5a5a5a")))

fig.update_layout(
    width=W, height=H, margin=dict(l=0, r=0, t=0, b=0),
    paper_bgcolor="white", plot_bgcolor="white",
    annotations=annotations, shapes=shapes, showlegend=False,
)

fig.write_html("out.html")
